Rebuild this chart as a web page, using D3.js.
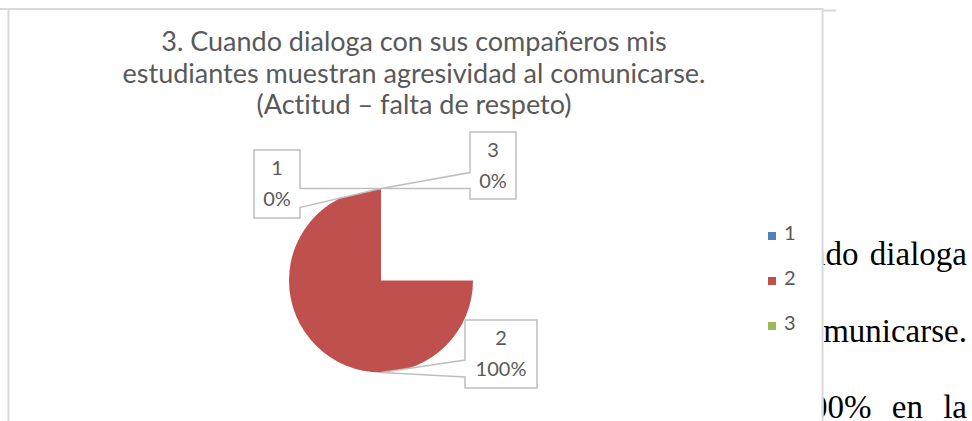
<!DOCTYPE html>
<html>
<head>
<meta charset="utf-8">
<script src="https://cdn.jsdelivr.net/npm/d3@7"></script>
<style>
  body { margin: 0; background: #fff; }
  svg { display: block; }
  text { font-variant-ligatures: none; }
</style>
</head>
<body>
<script>
// data
const categories = ['1', '2', '3'];
const values = [0, 100, 0];
const colors = ['#4F81BD', '#C0504D', '#9BBB59'];
const titleLines = [
  '3. Cuando dialoga con sus compañeros mis',
  'estudiantes muestran agresividad al comunicarse.',
  '(Actitud \u2013 falta de respeto)'
];
// page text that shows behind the chart on the right (only the visible ends)
const pageLines = ['ando dialoga', 'omunicarse.', '100% en la'];
const pageWordSpacing = [3, 0, 12];

const width = 972, height = 421;
const frame = {left: 8.5, top: 9, right: 822.5};
const center = {x: 381, y: 280.5};
const radius = 92;
const font = 'Lato, "Open Sans", sans-serif';

const svg = d3.select('body').append('svg')
  .attr('width', width)
  .attr('height', height);

svg.append('defs').append('clipPath')
  .attr('id', 'page-clip')
  .append('rect')
  .attr('x', frame.right + 1).attr('y', 0)
  .attr('width', width).attr('height', height);

// body text of the document, cut by the chart area on its left side
const pageY = d3.scalePoint().domain(d3.range(pageLines.length)).range([265, 418]);
svg.append('g')
  .attr('clip-path', 'url(#page-clip)')
  .selectAll('text')
  .data(pageLines)
  .enter()
  .append('text')
  .attr('x', 967)
  .attr('y', (d, i) => pageY(i))
  .attr('text-anchor', 'end')
  .attr('font-family', '"Liberation Serif", "Times New Roman", serif')
  .attr('font-size', 33)
  .attr('word-spacing', (d, i) => pageWordSpacing[i])
  .attr('fill', '#000')
  .text(d => d);

// chart area
svg.append('rect')
  .attr('x', frame.left)
  .attr('y', frame.top)
  .attr('width', frame.right - frame.left)
  .attr('height', height)
  .attr('fill', 'none')
  .attr('stroke', '#d9d9d9')
  .attr('stroke-width', 2);

svg.append('line')
  .attr('x1', 0).attr('x2', frame.right)
  .attr('y1', frame.top).attr('y2', frame.top)
  .attr('stroke', '#d9d9d9').attr('stroke-width', 2);
svg.append('line')
  .attr('x1', frame.right).attr('x2', 836)
  .attr('y1', frame.top + 1.5).attr('y2', frame.top + 1.5)
  .attr('stroke', '#d9d9d9').attr('stroke-width', 2);

// title
svg.append('text')
  .attr('x', 414)
  .attr('y', 51)
  .attr('text-anchor', 'middle')
  .attr('font-family', font)
  .attr('font-size', 27)
  .attr('fill', '#595959')
  .selectAll('tspan')
  .data(titleLines)
  .enter()
  .append('tspan')
  .attr('x', 414)
  .attr('dy', (d, i) => i === 0 ? 0 : 31.5)
  .text(d => d);

// pie: the slice is drawn as the picture shows it (top round to 3 o'clock)
const drawnPie = d3.pie().sort(null).startAngle(Math.PI / 2).endAngle(2 * Math.PI)(values);
const truePie = d3.pie().sort(null)(values);
const arc = d3.arc().innerRadius(0).outerRadius(radius);

const g = svg.append('g').attr('transform', `translate(${center.x}, ${center.y})`);
g.selectAll('path')
  .data(drawnPie)
  .enter()
  .append('path')
  .attr('d', arc)
  .attr('fill', (d, i) => colors[i]);

// data labels with callouts
const boxOffset = {
  '1': {dx: -127, dy: -38.5, w: 46, h: 68, side: 'right', t1: 0, t2: 19},
  '2': {dx: 84, dy: -52.5, w: 72, h: 68, side: 'left', t1: -12.5, t2: 4.5},
  '3': {dx: 89, dy: -56.5, w: 46, h: 67, side: 'left', t1: -16, t2: 0}
};

truePie.forEach((d, i) => {
  const cat = categories[i];
  const o = boxOffset[cat];
  const a = (d.startAngle + d.endAngle) / 2;
  const ax = center.x + radius * Math.sin(a);
  const ay = center.y - radius * Math.cos(a);
  const bx = ax + o.dx, by = ay + o.dy;
  // callout outline: box with a tail to the anchor point
  let pts;
  if (o.side === 'right') {
    const ex = bx + o.w;
    pts = [[bx, by], [ex, by], [ex, ay + o.t1], [ax, ay], [ex, ay + o.t2],
           [ex, by + o.h], [bx, by + o.h]];
  } else {
    pts = [[bx, by], [bx + o.w, by], [bx + o.w, by + o.h], [bx, by + o.h],
           [bx, ay + o.t2], [ax, ay], [bx, ay + o.t1]];
  }
  svg.append('path')
    .attr('d', d3.line()(pts) + 'Z')
    .attr('fill', '#fff')
    .attr('stroke', '#bfbfbf')
    .attr('stroke-width', 1.5);

  const pct = Math.round(d.value / d3.sum(values) * 100) + '%';
  svg.append('text')
    .attr('text-anchor', 'middle')
    .attr('font-family', font)
    .attr('font-size', 20)
    .attr('fill', '#595959')
    .selectAll('tspan')
    .data([cat, pct])
    .enter()
    .append('tspan')
    .attr('x', bx + o.w / 2)
    .attr('y', (t, j) => by + 25 + j * 31)
    .text(t => t);
});

// legend
const legendY = d3.scalePoint().domain(categories).range([236, 326]);
const legend = svg.append('g').selectAll('g')
  .data(categories)
  .enter()
  .append('g')
  .attr('transform', d => `translate(768, ${legendY(d)})`);
legend.append('rect')
  .attr('x', 0).attr('y', -4)
  .attr('width', 8).attr('height', 8)
  .attr('fill', (d, i) => colors[i]);
legend.append('text')
  .attr('x', 16).attr('y', 4)
  .attr('font-family', font)
  .attr('font-size', 20)
  .attr('fill', '#595959')
  .text(d => d);
</script>
</body>
</html>
